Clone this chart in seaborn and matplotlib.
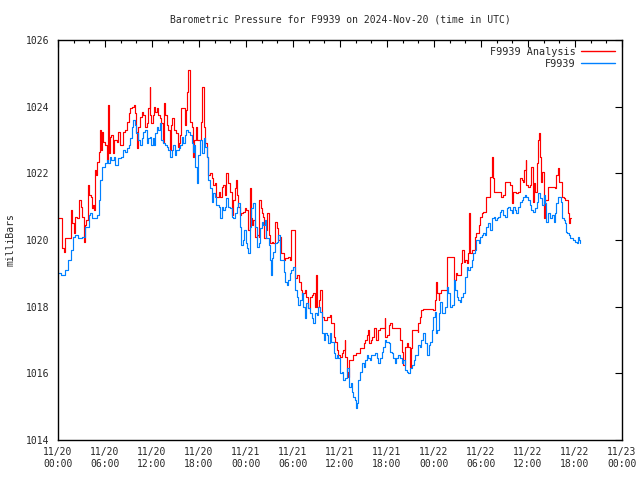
import matplotlib
matplotlib.use("Agg")
import matplotlib.pyplot as plt
from matplotlib.ticker import MultipleLocator
from matplotlib.lines import Line2D
import seaborn as sns
import pandas as pd

# ---- data (hours since 2024-11-20 00:00 UTC, pressure in mb) ----
obs_hours = [
    0.0, 0.4, 0.9, 1.3, 1.6, 1.96, 2.2, 2.6, 3.1, 3.5, 3.9, 4.1, 4.3, 4.7, 5.0, 5.2, 5.4, 5.6, 6.0, 6.2,
    6.4, 6.6, 6.8, 7.1, 7.3, 7.5, 7.7, 8.1, 8.3, 8.6, 8.8, 9.0, 9.2, 9.4, 9.6, 9.8, 10.0, 10.2, 10.5, 10.7,
    10.9, 11.1, 11.3, 11.5, 11.7, 11.9, 12.1, 12.2, 12.4, 12.6, 12.8, 13.0, 13.2, 13.4, 13.7, 13.9, 14.1, 14.3, 14.5, 14.7,
    14.9, 15.1, 15.4, 15.6, 15.8, 16.0, 16.2, 16.4, 16.6, 16.9, 17.1, 17.2, 17.3, 17.5, 17.7, 17.9, 18.1, 18.4, 18.6, 18.8,
    19.0, 19.2, 19.4, 19.6, 19.8, 20.0, 20.2, 20.5, 20.7, 20.9, 21.1, 21.3, 21.5, 21.7, 21.9, 22.2, 22.4, 22.6, 22.8, 23.0,
    23.2, 23.4, 23.6, 23.8, 24.0, 24.1, 24.3, 24.5, 24.7, 24.9, 25.1, 25.4, 25.6, 25.8, 26.0, 26.2, 26.4, 26.6, 26.9, 27.1,
    27.2, 27.3, 27.5, 27.7, 27.9, 28.1, 28.3, 28.5, 28.8, 29.0, 29.2, 29.4, 29.6, 29.8, 30.0, 30.3, 30.5, 30.7, 30.9, 31.1,
    31.3, 31.5, 31.7, 31.9, 32.2, 32.4, 32.6, 32.8, 33.0, 33.2, 33.4, 33.7, 33.9, 34.1, 34.3, 34.5, 34.7, 34.9, 35.2, 35.4,
    35.6, 35.8, 36.0, 36.2, 36.4, 36.6, 36.9, 37.1, 37.2, 37.4, 37.5, 37.7, 37.9, 38.0, 38.2, 38.3, 38.6, 38.8, 39.0, 39.2,
    39.4, 39.6, 39.8, 40.0, 40.3, 40.5, 40.7, 40.9, 41.1, 41.3, 41.5, 41.7, 41.9, 42.2, 42.4, 42.6, 42.8, 43.0, 43.2, 43.4,
    43.7, 43.9, 44.1, 44.3, 44.5, 44.7, 44.9, 45.2, 45.4, 45.6, 45.8, 46.0, 46.2, 46.4, 46.6, 46.8, 47.1, 47.3, 47.5, 47.7,
    47.9, 48.1, 48.2, 48.4, 48.6, 48.8, 49.0, 49.2, 49.4, 49.6, 49.8, 50.0, 50.3, 50.5, 50.7, 50.9, 51.1, 51.3, 51.5, 51.7,
    51.9, 52.2, 52.4, 52.6, 52.8, 53.0, 53.2, 53.4, 53.7, 53.9, 54.1, 54.3, 54.5, 54.7, 54.9, 55.2, 55.4, 55.6, 55.8, 56.0,
    56.2, 56.4, 56.6, 56.8, 57.1, 57.3, 57.5, 57.7, 57.9, 58.1, 58.3, 58.5, 58.7, 59.0, 59.2, 59.4, 59.6, 59.8, 60.0, 60.2,
    60.4, 60.5, 60.7, 60.9, 61.1, 61.3, 61.5, 61.8, 62.0, 62.2, 62.3, 62.5, 62.6, 62.8, 63.0, 63.3, 63.5, 63.6, 63.8, 64.0,
    64.2, 64.3, 64.4, 64.6, 64.7, 64.9, 65.0, 65.2, 65.4, 65.6, 65.8, 66.0, 66.2, 66.4, 66.5, 66.6,
]
obs_mb = [
    1019.0, 1018.95, 1019.1, 1019.4, 1019.7, 1020.1, 1020.15, 1020.05, 1020.1, 1020.4, 1020.75, 1020.8, 1020.65, 1020.65, 1020.75, 1021.2, 1021.8, 1022.2, 1022.3, 1022.4,
    1022.3, 1022.5, 1022.4, 1022.5, 1022.25, 1022.25, 1022.45, 1022.5, 1022.7, 1022.65, 1022.75, 1022.85, 1023.05, 1023.4, 1023.6, 1023.45, 1023.2, 1023.0, 1022.85, 1023.05,
    1023.25, 1023.3, 1022.9, 1023.05, 1023.1, 1022.85, 1023.05, 1022.85, 1023.2, 1023.4, 1023.3, 1023.5, 1023.0, 1022.9, 1022.85, 1022.8, 1022.7, 1022.5, 1022.7, 1022.85,
    1022.55, 1022.7, 1022.75, 1022.85, 1023.1, 1022.9, 1023.15, 1023.3, 1023.25, 1023.15, 1022.9, 1022.65, 1022.85, 1022.2, 1021.7, 1022.55, 1023.0, 1022.6, 1023.05, 1022.8,
    1022.5, 1021.8, 1021.55, 1021.15, 1021.4, 1021.3, 1021.05, 1021.0, 1020.65, 1021.0, 1020.9, 1021.0, 1021.25, 1021.0, 1020.95, 1020.7, 1020.65, 1020.8, 1021.0, 1021.1,
    1020.4, 1019.85, 1020.0, 1020.3, 1019.9, 1019.75, 1019.6, 1020.4, 1020.95, 1021.1, 1020.4, 1019.8, 1019.9, 1020.35, 1020.55, 1020.45, 1020.6, 1020.05, 1019.85, 1019.4,
    1018.95, 1019.45, 1019.65, 1019.9, 1019.95, 1020.15, 1019.4, 1019.4, 1019.05, 1018.75, 1018.65, 1018.8, 1019.0, 1019.1, 1019.2, 1018.5, 1018.3, 1018.05, 1018.2, 1018.4,
    1018.0, 1017.65, 1018.1, 1017.95, 1017.8, 1017.65, 1017.5, 1017.8, 1017.75, 1018.0, 1017.85, 1017.2, 1017.0, 1017.2, 1017.15, 1016.9, 1017.2, 1016.95, 1016.6, 1016.45,
    1016.55, 1016.45, 1016.0, 1016.05, 1015.8, 1015.85, 1016.15, 1015.9, 1015.6, 1015.7, 1015.45, 1015.3, 1015.2, 1014.95, 1015.1, 1015.8, 1016.05, 1016.3, 1016.2, 1016.4,
    1016.55, 1016.45, 1016.4, 1016.55, 1016.55, 1016.6, 1016.45, 1016.3, 1016.45, 1016.65, 1016.8, 1017.0, 1016.95, 1016.9, 1016.65, 1016.6, 1016.45, 1016.3, 1016.45, 1016.55,
    1016.45, 1016.3, 1016.4, 1016.1, 1016.05, 1016.0, 1016.15, 1016.25, 1016.4, 1016.55, 1016.55, 1016.85, 1016.8, 1017.0, 1017.2, 1016.9, 1016.55, 1016.85, 1016.95, 1017.3,
    1017.7, 1017.85, 1017.2, 1017.3, 1017.8, 1018.15, 1017.8, 1017.8, 1018.0, 1018.6, 1018.4, 1018.0, 1018.05, 1018.8, 1018.5, 1018.3, 1018.2, 1018.15, 1018.3, 1018.4,
    1018.9, 1019.2, 1019.1, 1019.2, 1019.4, 1019.6, 1019.7, 1020.0, 1019.9, 1020.1, 1020.15, 1020.2, 1020.15, 1020.4, 1020.5, 1020.3, 1020.65, 1020.7, 1020.6, 1020.65,
    1020.7, 1020.85, 1020.9, 1020.75, 1020.7, 1020.95, 1021.0, 1020.9, 1020.8, 1021.0, 1020.9, 1020.8, 1021.0, 1021.15, 1021.2, 1021.3, 1021.35, 1021.3, 1021.2, 1021.05,
    1020.9, 1020.9, 1020.85, 1020.95, 1021.15, 1021.4, 1021.25, 1021.05, 1021.35, 1021.1, 1020.55, 1020.75, 1020.8, 1020.65, 1020.75, 1020.55, 1020.8, 1021.1, 1021.3, 1021.3,
    1021.15, 1020.95, 1020.65, 1020.6, 1020.5, 1020.25, 1020.2, 1020.15, 1020.05, 1020.05, 1020.0, 1019.95, 1019.9, 1020.1, 1020.0, 1019.9,
]

ana_hours = [
    0.0, 0.5, 0.8, 0.9, 1.6, 1.7, 1.8, 2.0, 2.2, 2.4, 2.7, 2.9, 3.1, 3.3, 3.5, 3.6, 3.85, 4.0, 4.2, 4.4,
    4.5, 4.6, 4.7, 4.8, 5.0, 5.2, 5.4, 5.5, 5.6, 5.8, 6.0, 6.2, 6.4, 6.5, 6.7, 6.8, 7.0, 7.2, 7.5, 7.7,
    7.9, 8.1, 8.3, 8.5, 8.8, 9.0, 9.2, 9.4, 9.6, 9.7, 9.8, 10.0, 10.1, 10.2, 10.5, 10.7, 10.9, 11.1, 11.3, 11.5,
    11.7, 11.8, 11.9, 12.1, 12.3, 12.4, 12.6, 12.8, 13.0, 13.2, 13.4, 13.5, 13.7, 13.9, 14.1, 14.3, 14.4, 14.6, 14.8, 15.1,
    15.3, 15.4, 15.6, 15.7, 16.0, 16.2, 16.4, 16.5, 16.6, 16.8, 16.9, 17.1, 17.2, 17.4, 17.6, 17.8, 18.0, 18.3, 18.4, 18.6,
    18.8, 19.0, 19.1, 19.2, 19.4, 19.6, 19.8, 20.0, 20.2, 20.5, 20.7, 20.9, 21.1, 21.3, 21.5, 21.7, 21.9, 22.2, 22.4, 22.6,
    22.7, 22.9, 23.0, 23.2, 23.4, 23.6, 23.9, 24.0, 24.3, 24.5, 24.6, 24.8, 24.9, 25.1, 25.4, 25.6, 25.7, 25.9, 26.0, 26.2,
    26.3, 26.5, 26.7, 26.9, 27.1, 27.3, 27.5, 27.7, 27.9, 28.1, 28.3, 28.5, 28.8, 29.0, 29.2, 29.4, 29.6, 29.7, 30.0, 30.2,
    30.3, 30.5, 30.8, 31.0, 31.1, 31.3, 31.5, 31.7, 31.9, 32.2, 32.4, 32.6, 32.8, 32.9, 33.1, 33.3, 33.5, 33.7, 33.9, 34.1,
    34.3, 34.5, 34.7, 34.9, 35.2, 35.4, 35.6, 35.8, 36.0, 36.2, 36.4, 36.6, 36.7, 36.9, 37.0, 37.2, 37.4, 37.6, 37.9, 38.1,
    38.3, 38.6, 38.8, 39.0, 39.2, 39.4, 39.6, 39.7, 39.9, 40.1, 40.3, 40.4, 40.6, 40.8, 40.9, 41.1, 41.5, 41.7, 41.8, 42.0,
    42.2, 42.4, 42.6, 43.6, 43.7, 43.9, 44.1, 44.3, 44.5, 44.7, 44.9, 45.0, 45.2, 45.9, 46.0, 46.2, 46.4, 46.6, 47.9, 48.1,
    48.3, 48.4, 48.6, 48.7, 48.9, 49.4, 49.6, 50.5, 50.6, 50.8, 50.9, 51.3, 51.5, 51.6, 51.8, 52.0, 52.2, 52.4, 52.5, 52.6,
    52.8, 53.0, 53.2, 53.4, 53.7, 53.9, 54.1, 54.3, 54.5, 54.7, 54.9, 55.2, 55.4, 55.5, 55.7, 56.4, 56.6, 56.8, 57.0, 57.1,
    57.7, 57.9, 58.1, 58.5, 58.7, 59.0, 59.2, 59.4, 59.5, 59.7, 59.8, 60.0, 60.2, 60.4, 60.6, 60.7, 60.8, 60.9, 61.1, 61.3,
    61.4, 61.5, 61.7, 61.8, 62.0, 62.1, 62.2, 62.4, 62.6, 63.5, 63.6, 63.8, 63.9, 64.0, 64.2, 64.3, 64.4, 64.6, 64.7, 64.9,
    65.1, 65.2, 65.4, 65.5,
]
ana_mb = [
    1020.65, 1019.75, 1019.65, 1020.05, 1020.05, 1020.9, 1020.5, 1020.2, 1020.7, 1020.65, 1021.2, 1021.0, 1020.7, 1019.95, 1020.45, 1020.6, 1021.65, 1021.35, 1021.3, 1020.95,
    1021.05, 1020.9, 1022.1, 1021.95, 1022.35, 1022.65, 1023.3, 1022.7, 1023.25, 1022.95, 1022.85, 1022.4, 1024.05, 1022.6, 1023.1, 1023.15, 1022.6, 1023.0, 1022.95, 1023.25,
    1022.85, 1022.85, 1023.25, 1023.3, 1023.55, 1023.8, 1023.95, 1024.0, 1024.0, 1024.05, 1023.8, 1023.25, 1022.75, 1023.4, 1023.7, 1023.85, 1023.75, 1023.4, 1023.5, 1023.95,
    1024.6, 1023.75, 1023.5, 1023.75, 1024.0, 1023.85, 1023.95, 1023.75, 1023.65, 1023.5, 1022.95, 1024.1, 1023.75, 1023.45, 1023.3, 1022.7, 1023.45, 1023.65, 1023.3, 1023.2,
    1022.8, 1022.9, 1023.15, 1023.95, 1023.95, 1023.45, 1023.9, 1024.45, 1025.1, 1024.4, 1023.55, 1023.4, 1022.5, 1023.0, 1023.4, 1023.0, 1023.0, 1023.55, 1024.6, 1023.4,
    1022.9, 1022.5, 1022.3, 1021.95, 1022.0, 1021.85, 1021.65, 1021.7, 1021.3, 1021.45, 1021.3, 1021.6, 1021.65, 1021.35, 1022.0, 1021.7, 1021.45, 1020.75, 1021.2, 1021.55,
    1021.8, 1021.35, 1021.0, 1020.75, 1020.8, 1020.85, 1020.95, 1020.9, 1020.3, 1021.55, 1020.65, 1020.45, 1020.6, 1020.1, 1020.15, 1020.1, 1021.2, 1020.95, 1020.8, 1020.7,
    1020.05, 1020.3, 1020.8, 1020.15, 1019.9, 1019.95, 1019.9, 1020.55, 1020.35, 1020.0, 1020.1, 1019.6, 1019.4, 1019.45, 1019.45, 1019.5, 1019.4, 1020.3, 1020.3, 1019.0,
    1018.85, 1018.95, 1018.75, 1018.5, 1018.35, 1018.4, 1018.5, 1018.3, 1017.95, 1018.3, 1018.35, 1018.4, 1018.0, 1018.95, 1018.0, 1018.2, 1018.5, 1017.7, 1017.6, 1017.6,
    1017.7, 1017.7, 1017.75, 1017.5, 1017.1, 1016.95, 1016.7, 1016.55, 1016.5, 1016.6, 1016.7, 1017.0, 1016.5, 1016.05, 1015.9, 1016.4, 1016.4, 1016.55, 1016.55, 1016.6,
    1016.6, 1016.75, 1016.75, 1016.9, 1017.0, 1017.15, 1017.3, 1016.9, 1017.0, 1017.1, 1017.25, 1017.35, 1017.0, 1017.0, 1017.3, 1017.35, 1017.35, 1017.65, 1017.1, 1017.15,
    1017.45, 1017.5, 1017.35, 1017.35, 1017.0, 1016.65, 1016.25, 1016.8, 1016.9, 1016.8, 1016.2, 1016.75, 1017.3, 1017.25, 1017.5, 1017.7, 1017.9, 1017.93, 1017.9, 1018.2,
    1018.75, 1018.4, 1018.2, 1018.4, 1018.5, 1018.5, 1019.5, 1019.5, 1018.8, 1019.0, 1018.95, 1018.95, 1019.3, 1019.7, 1019.35, 1019.4, 1019.3, 1019.6, 1020.8, 1019.6,
    1019.7, 1019.7, 1020.1, 1020.2, 1020.45, 1020.7, 1020.8, 1020.85, 1020.85, 1021.3, 1021.3, 1021.9, 1022.5, 1021.85, 1021.45, 1021.45, 1021.3, 1021.35, 1021.65, 1021.75,
    1021.65, 1021.1, 1021.45, 1021.4, 1021.45, 1021.85, 1021.8, 1021.75, 1022.1, 1022.4, 1021.65, 1021.6, 1021.65, 1022.2, 1021.7, 1021.15, 1021.7, 1021.45, 1022.3, 1023.0,
    1023.2, 1022.5, 1021.75, 1022.05, 1021.1, 1020.65, 1021.2, 1021.2, 1021.6, 1021.55, 1021.95, 1022.15, 1022.0, 1021.75, 1021.75, 1021.45, 1021.3, 1021.25, 1021.2, 1021.2,
    1020.8, 1020.5, 1020.65, 1020.65,
]

x_tick_hours = [0, 6, 12, 18, 24, 30, 36, 42, 48, 54, 60, 66, 72]
x_tick_labels = ["11/20\n00:00", "11/20\n06:00", "11/20\n12:00", "11/20\n18:00",
                 "11/21\n00:00", "11/21\n06:00", "11/21\n12:00", "11/21\n18:00",
                 "11/22\n00:00", "11/22\n06:00", "11/22\n12:00", "11/22\n18:00",
                 "11/23\n00:00"]
y_ticks = [1014, 1016, 1018, 1020, 1022, 1024, 1026]

series_names = ["F9939 Analysis", "F9939"]
title = "Barometric Pressure for F9939 on 2024-Nov-20 (time in UTC)"

# ---- build long table ----
df = pd.concat([
    pd.DataFrame({"hour": ana_hours, "mb": ana_mb, "series": series_names[0]}),
    pd.DataFrame({"hour": obs_hours, "mb": obs_mb, "series": series_names[1]}),
], ignore_index=True)

sns.set_style("white")
plt.rcParams["font.family"] = ["DejaVu Sans Mono"]
plt.rcParams["font.size"] = 7

fig = plt.figure(figsize=(6.4, 4.8), dpi=100)
ax = fig.add_axes([58 / 640, 1 - 440 / 480, 564 / 640, 400 / 480])

palette = {series_names[0]: "#ff0000", series_names[1]: "#0080ff"}
sns.lineplot(data=df, x="hour", y="mb", hue="series", hue_order=series_names,
             palette=palette, estimator=None, sort=False, drawstyle="steps-post",
             linewidth=0.85, ax=ax, legend=False)

ax.set_xlim(0, 72)
ax.set_ylim(1014, 1026)
ax.set_xticks(x_tick_hours)
ax.set_xticklabels(x_tick_labels)
ax.xaxis.set_minor_locator(MultipleLocator(2))
ax.set_yticks(y_ticks)
ax.set_yticklabels([str(v) for v in y_ticks])

ax.tick_params(which="both", direction="in", top=True, right=True, color="black")
ax.tick_params(which="major", length=5, width=0.8, pad=6, labelsize=7)
ax.tick_params(which="minor", length=2.5, width=0.8)
ax.tick_params(axis="x", which="major", pad=5)
for sp in ax.spines.values():
    sp.set_color("black")
    sp.set_linewidth(1.0)

ax.set_xlabel("")
ax.set_ylabel("milliBars", fontsize=7)
ax.yaxis.set_label_coords(-0.075, 0.5)
fig.text(340 / 640, 1 - 20 / 480, title, ha="center", va="center", fontsize=7)

handles = [Line2D([0], [0], color=palette[n], lw=1.0) for n in series_names]
leg = ax.legend(handles, series_names, loc="upper right", frameon=False,
                markerfirst=False, fontsize=7.3, handlelength=3.4, handletextpad=0.5,
                labelspacing=0.2, borderaxespad=0.25)
leg._legend_box.align = "right"

fig.savefig("out.png", dpi=100)
